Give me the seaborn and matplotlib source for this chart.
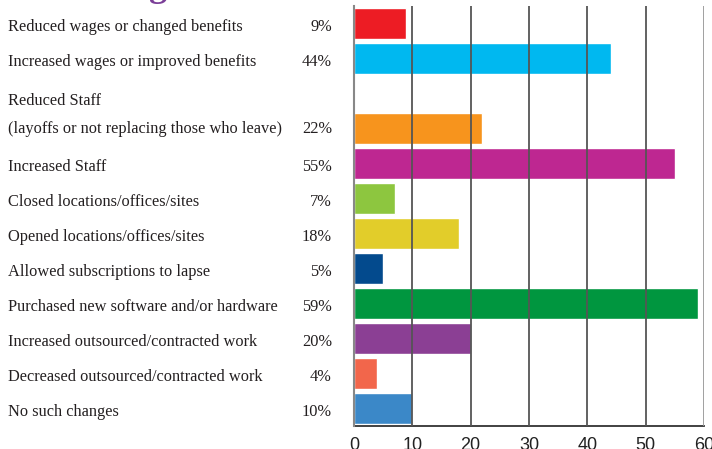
import matplotlib
matplotlib.use("Agg")
import matplotlib.pyplot as plt
import matplotlib.transforms as mtransforms
import seaborn as sns
import pandas as pd

# Survey responses: changes made during the year (percent of respondents)
categories = [
    "Reduced wages or changed benefits",
    "Increased wages or improved benefits",
    "Reduced Staff\n(layoffs or not replacing those who leave)",
    "Increased Staff",
    "Closed locations/offices/sites",
    "Opened locations/offices/sites",
    "Allowed subscriptions to lapse",
    "Purchased new software and/or hardware",
    "Increased outsourced/contracted work",
    "Decreased outsourced/contracted work",
    "No such changes",
]
values = [9, 44, 22, 55, 7, 18, 5, 59, 20, 4, 10]
colors = ["#ED1C24", "#00B8F0", "#F7941D", "#BE2791", "#8DC63F", "#E2CD2A",
          "#034A8D", "#00963F", "#8B3F94", "#F2664B", "#3B88C8"]
x_ticks = [0, 10, 20, 30, 40, 50, 60]

df = pd.DataFrame({"category": categories, "value": values})
# the two-line label takes two rows, so an empty row sits above it
order = categories[:2] + [" "] + categories[2:]

sns.set_style("white")
fig = plt.figure(figsize=(7.12, 4.49), dpi=100)
ax = fig.add_axes([0.497, 0.0512, 0.492, 0.9354])

sns.barplot(data=df, y="category", x="value", order=order, hue="category",
            hue_order=categories, palette=colors, orient="h", width=0.9,
            legend=False, saturation=1, ax=ax, zorder=1)

ax.set_xlim(0, 60)
ax.set_ylim(11.5, -0.5)
ax.set_xticks(x_ticks)
ax.set_xticklabels([str(t) for t in x_ticks], fontsize=13,
                   family=["Liberation Sans Narrow", "Liberation Sans"], color="#222")
ax.tick_params(axis="x", length=0, pad=8)
ax.set_yticks([])
ax.set_xlabel("")
ax.set_ylabel("")

for t in x_ticks[1:-1]:
    ax.axvline(t, color="#555555", lw=1.3, zorder=3)
ax.axvline(60, color="#999999", lw=1.3, zorder=3)

for s in ["top", "right"]:
    ax.spines[s].set_visible(False)
ax.spines["left"].set_color("#888888")
ax.spines["left"].set_linewidth(1.5)
ax.spines["bottom"].set_color("#333333")
ax.spines["bottom"].set_linewidth(1.3)
ax.spines["left"].set_zorder(4)

# row labels and percentages to the left of the bars
trans = mtransforms.blended_transform_factory(fig.transFigure, ax.transData)
serif = ["Liberation Serif", "DejaVu Serif"]
fs = 11.8
for cat, val in zip(categories, values):
    pos = order.index(cat)
    if "\n" in cat:
        first, second = cat.split("\n")
        ax.text(0.011, pos - 1 + 0.2, first, transform=trans, ha="left", va="center",
                fontsize=fs, family=serif, color="#231F20")
        ax.text(0.011, pos + 0.0, second, transform=trans, ha="left", va="center",
                fontsize=fs, family=serif, color="#231F20")
        ax.text(0.466, pos + 0.0, f"{val}%", transform=trans, ha="right", va="center",
                fontsize=fs, family=serif, color="#231F20")
    else:
        ax.text(0.011, pos + 0.1, cat, transform=trans, ha="left", va="center",
                fontsize=fs, family=serif, color="#231F20")
        ax.text(0.466, pos + 0.1, f"{val}%", transform=trans, ha="right", va="center",
                fontsize=fs, family=serif, color="#231F20")

# descender of the heading above the chart
fig.text(0.222, 1.008, "g", color="#7B3F98", fontsize=26, fontweight="bold",
         family=serif, ha="center", va="baseline")

fig.savefig("out.png", dpi=100)
